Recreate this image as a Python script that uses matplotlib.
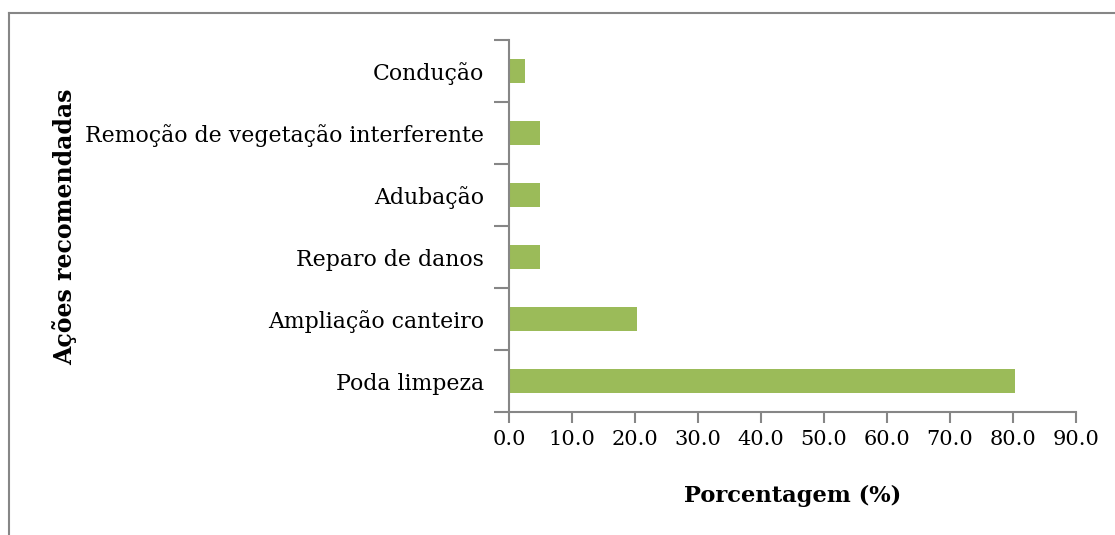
import matplotlib
matplotlib.use("Agg")
import matplotlib.pyplot as plt
from matplotlib.lines import Line2D

acoes = ["Poda limpeza", "Ampliação canteiro", "Reparo de danos",
         "Adubação", "Remoção de vegetação interferente", "Condução"]
porcentagem = [80.4, 20.3, 5.0, 5.0, 5.0, 2.5]
xticks = [0, 10, 20, 30, 40, 50, 60, 70, 80, 90]

plt.rcParams['font.family'] = ['DejaVu Serif']

fig = plt.figure(figsize=(11.15, 5.35), dpi=100)
ax = fig.add_axes([0.4565, 0.2299, 0.5085, 0.6953])

ax.barh(range(len(acoes)), porcentagem, height=0.4, color='#9BBB59')
ax.set_ylim(-0.5, len(acoes) - 0.5)
ax.set_xlim(0, 90)

ax.set_yticks(range(len(acoes)))
ax.set_yticklabels(acoes, fontsize=15.8)
ax.set_yticks([i - 0.5 for i in range(len(acoes) + 1)], minor=True)
ax.tick_params(axis='y', which='major', length=0, pad=18)
ax.tick_params(axis='y', which='minor', length=11, color='#868686', width=1.5)

ax.set_xticks(xticks)
ax.set_xticklabels(["%.1f" % v for v in xticks], fontsize=15)
ax.tick_params(axis='x', length=8, color='#868686', width=1.5, pad=5)

for s in ['top', 'right']:
    ax.spines[s].set_visible(False)
for s in ['left', 'bottom']:
    ax.spines[s].set_color('#868686')
    ax.spines[s].set_linewidth(1.5)

ax.set_xlabel("Porcentagem (%)", fontsize=16.3, fontweight='bold', labelpad=26)
fig.text(65 / 1115, 1 - 227 / 535, "Ações recomendadas", rotation=90,
         fontsize=17, fontweight='bold', ha='center', va='center')

# outer frame (only top and left visible)
fig.add_artist(Line2D([9 / 1115, 9 / 1115], [0, 1 - 13 / 535],
                      transform=fig.transFigure, color='#868686', lw=1.5))
fig.add_artist(Line2D([9 / 1115, 1], [1 - 13 / 535, 1 - 13 / 535],
                      transform=fig.transFigure, color='#868686', lw=1.5))

fig.savefig("out.png", dpi=100)
